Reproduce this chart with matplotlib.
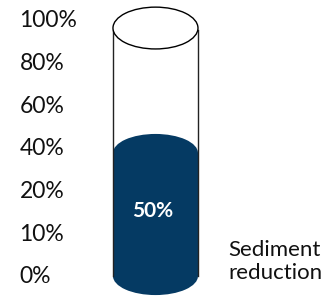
import matplotlib
matplotlib.use("Agg")
import matplotlib.pyplot as plt
import numpy as np
from matplotlib.patches import Ellipse, Rectangle

# Data
tick_labels = ["0%", "10%", "20%", "40%", "60%", "80%", "100%"]
fill_value = 50          # percent of cylinder filled
fill_label = "50%"
category_label = "Sediment\nreduction"

plt.rcParams['font.family'] = ['Lato', 'DejaVu Sans']

fig = plt.figure(figsize=(3.26, 2.96), dpi=100)
ax = fig.add_axes([0, 0, 1, 1])
ax.set_xlim(-1.829, 2.006)
ax.set_ylim(-8.13, 112.2)
ax.axis('off')

navy = '#053a63'
w = 1.0
eh = 15.5   # ellipse full height in data units
full = 100

# Fill body
ax.add_patch(Rectangle((-w / 2, 0), w, fill_value, facecolor=navy, edgecolor='none', zorder=2))
ax.add_patch(Ellipse((0, 0), w, eh, facecolor=navy, edgecolor='none', zorder=2))
ax.add_patch(Ellipse((0, fill_value), w, eh, facecolor=navy, edgecolor='none', zorder=2))

# Cylinder outline
ax.plot([-w / 2, -w / 2], [0, full], color='#222222', lw=1, zorder=3)
ax.plot([w / 2, w / 2], [0, full], color='#222222', lw=1, zorder=3)
ax.add_patch(Ellipse((0, full + 0.8), w, eh + 1.5, facecolor='white', edgecolor='black', lw=1, zorder=4))

# Tick labels
tick_pos = np.linspace(-0.4, 103.7, len(tick_labels))
for p, lab in zip(tick_pos, tick_labels):
    ax.text(-1.6, p, lab, ha='left', va='center', fontsize=16.5, color='#111111')

# Value label
ax.text(-0.03, 26.5, fill_label, ha='center', va='center', fontsize=15,
        fontweight='bold', color='white', zorder=5)

# Category label
ax.text(0.86, 5.9, category_label, ha='left', va='center', fontsize=16,
        color='#111111', linespacing=1.2)

fig.savefig('out.png', dpi=100)
